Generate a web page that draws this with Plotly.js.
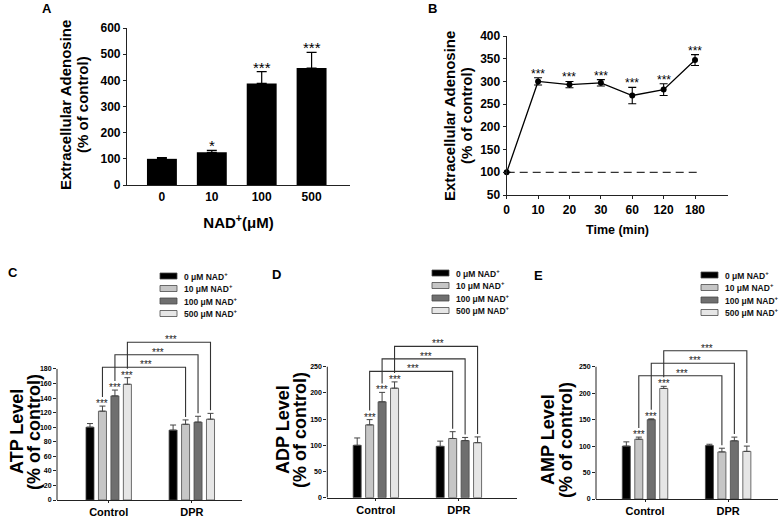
<!DOCTYPE html>
<html><head><meta charset="utf-8">
<script src="https://cdn.plot.ly/plotly-3.0.1.min.js"></script>
<style>html,body{margin:0;padding:0;background:#fff}#chart{width:780px;height:517px}</style>
</head><body><div id="chart"></div>
<script>
// ---------------- data ----------------
const nadDoses = ['0', '10', '100', '500'];
const adenosineByDose = [100, 125, 388, 447];
const adenosineByDoseErr = [5, 7, 45, 60];
const adenosineByDoseSig = ['', '*', '***', '***'];

const timeLabels = ['0', '10', '20', '30', '60', '120', '180'];
const adenosineByTime = [100, 300, 293, 297, 269, 282, 347];
const adenosineByTimeErr = [0, 8, 7, 7, 18, 13, 12];
const adenosineByTimeSig = ['', '***', '***', '***', '***', '***', '***'];
const controlLevel = 100;

const groups = ['Control', 'DPR'];
const seriesNames = ['0 \u03bcM NAD<sup>+</sup>', '10 \u03bcM NAD<sup>+</sup>', '100 \u03bcM NAD<sup>+</sup>', '500 \u03bcM NAD<sup>+</sup>'];

const atpControl = [100, 122, 143, 159];
const atpControlErr = [5, 7, 8, 9];
const atpDPR = [96, 104, 107, 111];
const atpDPRErr = [7, 6, 8, 8];

const adpControl = [100, 139, 183, 209];
const adpControlErr = [14, 10, 18, 12];
const adpDPR = [98, 113, 109, 105];
const adpDPRErr = [10, 13, 6, 11];

const ampControl = [100, 113, 150, 209];
const ampControlErr = [8, 4, 1.5, 4];
const ampDPR = [101, 89, 110, 90];
const ampDPRErr = [2.5, 7, 7, 10];

const controlSig = ['', '***', '***', '***'];
const pairSig = ['', '***', '***', '***'];

// ---------------- styles / layout ----------------
const W = 780, H = 517;
const FONT = 'Liberation Sans, Arial, sans-serif';
const seriesColors = ['#000000', '#c6c6c6', '#6f6f6f', '#e6e6e6'];
const BARGAP = 0.4, GROUPGAP = 0.355;
const px = x => x / W;
const py = y => 1 - y / H;

const traces = [];
const annotations = [];
const shapes = [];

function panelLetter(t, x, y) {
  annotations.push({text: t, xref: 'paper', yref: 'paper', x: px(x), y: py(y), xanchor: 'left', yanchor: 'middle',
    showarrow: false, font: {family: FONT, size: 13, weight: 'bold', color: '#000'}});
}
function yTitle(lines, xs, yc, size) {
  lines.forEach((t, i) => annotations.push({text: t, xref: 'paper', yref: 'paper', x: px(xs[i]), y: py(yc),
    xanchor: 'center', yanchor: 'middle', textangle: -90, showarrow: false,
    font: {family: FONT, size: size, weight: 'bold', color: '#000'}}));
}

// ---------- Panel A ----------
const doseIdx = nadDoses.map((d, i) => i);
traces.push({type: 'bar', x: doseIdx, y: adenosineByDose, width: 0.6, xaxis: 'x', yaxis: 'y',
  marker: {color: '#000', line: {width: 0}}, showlegend: false, hoverinfo: 'skip',
  error_y: {type: 'data', array: adenosineByDoseErr, arrayminus: adenosineByDoseErr.map(() => 0), symmetric: false,
    color: '#000', thickness: 1.2, width: 5}});
doseIdx.forEach(i => {
  if (!adenosineByDoseSig[i]) return;
  annotations.push({text: adenosineByDoseSig[i], xref: 'x', yref: 'y', x: i, y: adenosineByDose[i] + adenosineByDoseErr[i],
    yanchor: 'bottom', showarrow: false, yshift: -6, font: {family: FONT, size: 15, color: '#000'}});
});

// ---------- Panel B ----------
const timeIdx = timeLabels.map((t, i) => i);
traces.push({type: 'scatter', mode: 'lines', x: [timeIdx[0], timeIdx[timeIdx.length - 1] + 0.15], y: [controlLevel, controlLevel],
  xaxis: 'x2', yaxis: 'y2', line: {color: '#333', width: 1.3, dash: '8px,5px'}, showlegend: false, hoverinfo: 'skip', cliponaxis: false});
traces.push({type: 'scatter', mode: 'lines+markers', x: timeIdx, y: adenosineByTime, xaxis: 'x2', yaxis: 'y2',
  line: {color: '#000', width: 1.3}, marker: {color: '#000', size: 6}, cliponaxis: false, showlegend: false, hoverinfo: 'skip',
  error_y: {type: 'data', array: adenosineByTimeErr, color: '#000', thickness: 1.1, width: 4}});
timeIdx.forEach(i => {
  if (!adenosineByTimeSig[i]) return;
  annotations.push({text: adenosineByTimeSig[i], xref: 'x2', yref: 'y2', x: i, y: adenosineByTime[i] + adenosineByTimeErr[i],
    yanchor: 'bottom', showarrow: false, yshift: -5, font: {family: FONT, size: 12, color: '#000'}});
});

// ---------- Panels C, D, E ----------
const groupIdx = groups.map((g, i) => i);
const slot = (1 - BARGAP) / seriesNames.length;
const barOffset = i => -(1 - BARGAP) / 2 + slot * (i + 0.5);

function groupedPanel(cfg) {
  const {xa, ya, ctrl, ctrlErr, dpr, dprErr, ppu} = cfg;
  const xr = xa.replace('axis', ''), yr = ya.replace('axis', '');
  seriesNames.forEach((name, i) => {
    traces.push({type: 'bar', name: name, x: groupIdx, y: [ctrl[i], dpr[i]], xaxis: xr, yaxis: yr,
      marker: {color: seriesColors[i], line: {color: '#4a4a4a', width: 0.8}}, showlegend: false, hoverinfo: 'skip',
      error_y: {type: 'data', array: [ctrlErr[i], dprErr[i]], arrayminus: [0, 0], symmetric: false,
        color: '#444', thickness: 1, width: 3}});
  });
  const u = p => p / ppu; // pixels -> data units
  // stars over control bars
  controlSig.forEach((s, i) => {
    if (!s) return;
    annotations.push({text: s, xref: xr, yref: yr, x: groupIdx[0] + barOffset(i), y: ctrl[i] + ctrlErr[i], yanchor: 'bottom',
      yshift: -5, showarrow: false, font: {family: FONT, size: 10, color: '#222'}});
  });
  // brackets between the same dose in Control and DPR
  const leftEnds = ctrl.map((v, i) => v + ctrlErr[i] + u(9));
  const pairs = pairSig.map((s, i) => s ? i : -1).filter(i => i >= 0);
  const level = Math.max(...pairs.map(i => leftEnds[i])) + u(1.5);
  pairs.forEach((i, k) => {
    const lv = level + u(12.5) * k;
    const xl = groupIdx[0] + barOffset(i), xrr = groupIdx[1] + barOffset(i);
    traces.push({type: 'scatter', mode: 'lines', x: [xl, xl, xrr, xrr], y: [leftEnds[i], lv, lv, dpr[i] + dprErr[i] + u(3)],
      xaxis: xr, yaxis: yr, line: {color: '#333', width: 1.1}, showlegend: false, hoverinfo: 'skip'});
    annotations.push({text: pairSig[i], xref: xr, yref: yr, x: (xl + xrr) / 2, y: lv, yanchor: 'bottom', yshift: -5, xshift: 2,
      showarrow: false, font: {family: FONT, size: 10, color: '#222'}});
  });
  // y-axis line only up to the last tick
  shapes.push({type: 'line', xref: xr + ' domain', yref: yr, x0: 0, x1: 0, y0: 0, y1: cfg.tickMax,
    line: {color: '#222', width: 1}});
  // legend
  seriesNames.forEach((name, i) => {
    const yc = cfg.legY + 12.5 * i;
    shapes.push({type: 'rect', xref: 'paper', yref: 'paper', x0: px(cfg.legX), x1: px(cfg.legX + 17),
      y0: py(yc + 3), y1: py(yc - 3), fillcolor: seriesColors[i], line: {color: '#4a4a4a', width: 0.8}});
    annotations.push({text: name, xref: 'paper', yref: 'paper', x: px(cfg.legX + 22), y: py(yc), xanchor: 'left',
      yanchor: 'middle', showarrow: false, font: {family: FONT, size: 8.5, weight: 'bold', color: '#111'}});
  });
  yTitle([cfg.title, '(% of control)'], cfg.titleX, cfg.titleY, 18);
}

const C = {xa: 'xaxis3', ya: 'yaxis3', ctrl: atpControl, ctrlErr: atpControlErr, dpr: atpDPR, dprErr: atpDPRErr,
  ppu: 0.728, tickMax: 180, legX: 160, legY: 276, title: 'ATP Level', titleX: [17, 34], titleY: 432};
const D = {xa: 'xaxis4', ya: 'yaxis4', ctrl: adpControl, ctrlErr: adpControlErr, dpr: adpDPR, dprErr: adpDPRErr,
  ppu: 0.524, tickMax: 250, legX: 432, legY: 273, title: 'ADP Level', titleX: [283, 300], titleY: 430};
const E = {xa: 'xaxis5', ya: 'yaxis5', ctrl: ampControl, ctrlErr: ampControlErr, dpr: ampDPR, dprErr: ampDPRErr,
  ppu: 0.529, tickMax: 250, legX: 701, legY: 275, title: 'AMP Level', titleX: [548, 566], titleY: 440};
[C, D, E].forEach(groupedPanel);

yTitle(['Extracellular Adenosine', '(% of control)'], [66, 83], 105, 15);
yTitle(['Extracellular Adenosine', '(% of control)'], [449, 466], 116, 15);

panelLetter('A', 40, 8);
panelLetter('B', 426, 8);
panelLetter('C', 6, 272);
panelLetter('D', 270, 274);
panelLetter('E', 532, 275);

// ---------- axes ----------
const tickFontBig = {family: FONT, size: 12, weight: 'bold', color: '#000'};
const tickFontSmall = {family: FONT, size: 7, weight: 'bold', color: '#000'};
const groupTickFont = {family: FONT, size: 11, weight: 'bold', color: '#000'};
function xAx(d0, d1, range, anchor, extra) {
  return Object.assign({domain: [px(d0), px(d1)], range: range, anchor: anchor, showline: true, linecolor: '#222', linewidth: 1.1,
    showgrid: false, zeroline: false, fixedrange: true}, extra);
}
function yAx(top, bottom, range, anchor, extra) {
  return Object.assign({domain: [py(bottom), py(top)], range: range, anchor: anchor, showgrid: false, zeroline: false,
    ticks: 'outside', ticklen: 3, tickcolor: '#222', fixedrange: true}, extra);
}
const groupX = (d0, d1, range, anchor) => xAx(d0, d1, range, anchor, {tickmode: 'array', tickvals: groupIdx, ticktext: groups,
  tickfont: groupTickFont, ticks: 'outside', ticklen: 2, tickcolor: '#222'});

const layout = {
  width: W, height: H, margin: {l: 0, r: 0, t: 0, b: 0}, paper_bgcolor: '#fff', plot_bgcolor: '#fff',
  font: {family: FONT, color: '#000'}, showlegend: false,
  barmode: 'group', bargap: BARGAP, bargroupgap: GROUPGAP,
  xaxis: xAx(127, 350, [-0.7, 3.77], 'y', {tickmode: 'array', tickvals: doseIdx, ticktext: nadDoses, tickfont: tickFontBig, ticks: '',
    title: {text: 'NAD<sup>+</sup>(\u03bcM)', font: {family: FONT, size: 15, weight: 'bold', color: '#000'}, standoff: 15}}),
  yaxis: yAx(28, 185, [0, 600], 'x', {dtick: 100, showline: true, linecolor: '#222', linewidth: 1.1, tickfont: tickFontBig}),
  xaxis2: xAx(506.7, 728.3, [0, 7.06], 'y2', {tickmode: 'array', tickvals: timeIdx, ticktext: timeLabels, tickfont: tickFontBig,
    ticks: 'outside', ticklen: 3, tickcolor: '#222',
    title: {text: 'Time (min)', font: {family: FONT, size: 12.5, weight: 'bold', color: '#000'}, standoff: 9}}),
  yaxis2: yAx(36, 195, [50, 400], 'x2', {dtick: 50, showline: true, linecolor: '#222', linewidth: 1.1, tickfont: tickFontBig}),
  xaxis3: groupX(57, 242, [-0.622, 1.604], 'y3'),
  yaxis3: yAx(328, 500, [0, (500 - 328) / C.ppu], 'x3', {tickmode: 'array', tickvals: [0, 20, 40, 60, 80, 100, 120, 140, 160, 180],
    tickfont: tickFontSmall}),
  xaxis4: groupX(327.3, 517, [-0.585, 1.70], 'y4'),
  yaxis4: yAx(328, 497.7, [0, (497.7 - 328) / D.ppu], 'x4', {tickmode: 'array', tickvals: [0, 50, 100, 150, 200, 250],
    tickfont: tickFontSmall}),
  xaxis5: groupX(596, 778, [-0.59, 1.6], 'y5'),
  yaxis5: yAx(328, 499, [0, (499 - 328) / E.ppu], 'x5', {tickmode: 'array', tickvals: [0, 50, 100, 150, 200, 250],
    tickfont: tickFontSmall}),
  annotations: annotations, shapes: shapes
};

Plotly.newPlot('chart', traces, layout, {staticPlot: true, displayModeBar: false});
</script></body></html>
